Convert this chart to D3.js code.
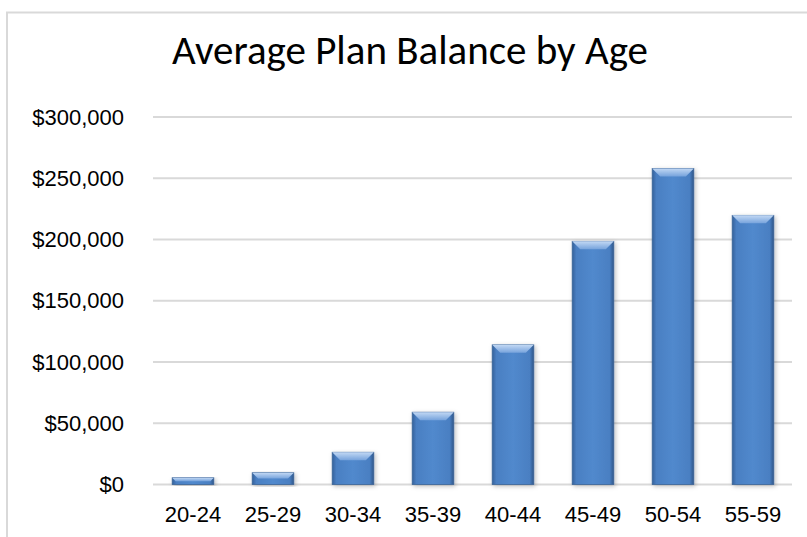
<!DOCTYPE html>
<html>
<head>
<meta charset="utf-8">
<script src="https://cdn.jsdelivr.net/npm/d3@7"></script>
<style>
  body { margin: 0; background: #fff; }
  svg { display: block; }
</style>
</head>
<body>
<div class="chart"></div>
<script>
const ageGroups = ['20-24', '25-29', '30-34', '35-39', '40-44', '45-49', '50-54', '55-59'];
const balances = [5500, 9600, 26300, 59000, 114000, 198500, 258000, 219700];
const yTicks = [0, 50000, 100000, 150000, 200000, 250000, 300000];
const chartTitle = 'Average Plan Balance by Age';

const w = 807;
const h = 537;

var svg = d3.select('.chart').append('svg')
    .attr('width', w)
    .attr('height', h);

var defs = svg.append('defs');

// side-to-side shading of the bars
var grad = defs.append('linearGradient')
    .attr('id', 'barGrad')
    .attr('x1', '0%').attr('x2', '100%')
    .attr('y1', '0%').attr('y2', '0%');
grad.append('stop').attr('offset', '0%').attr('stop-color', '#34619b');
grad.append('stop').attr('offset', '10%').attr('stop-color', '#4a7fc2');
grad.append('stop').attr('offset', '50%').attr('stop-color', '#5189cd');
grad.append('stop').attr('offset', '90%').attr('stop-color', '#4a7fc2');
grad.append('stop').attr('offset', '100%').attr('stop-color', '#2f5688');

var topGrad = defs.append('linearGradient')
    .attr('id', 'topGrad')
    .attr('x1', '0%').attr('x2', '0%')
    .attr('y1', '0%').attr('y2', '100%');
topGrad.append('stop').attr('offset', '0%').attr('stop-color', '#c2d8f4');
topGrad.append('stop').attr('offset', '100%').attr('stop-color', '#76a3dc');

var shadow = defs.append('filter')
    .attr('id', 'shadow')
    .attr('x', '-30%').attr('y', '-10%')
    .attr('width', '160%').attr('height', '130%');
shadow.append('feDropShadow')
    .attr('dx', 1.5).attr('dy', 1.5)
    .attr('stdDeviation', 2)
    .attr('flood-color', '#000')
    .attr('flood-opacity', 0.25);

// chart area outline (runs off the right and bottom)
svg.append('path')
    .attr('d', 'M7,537 V12.5 H807')
    .attr('fill', 'none')
    .attr('stroke', '#d9d9d9')
    .attr('stroke-width', 2);

var x = d3.scaleBand()
    .domain(ageGroups)
    .range([153, 793])
    .paddingInner(0.48)
    .paddingOuter(0.24);

var y = d3.scaleLinear()
    .domain([0, 300000])
    .range([484.5, 117]);

// gridlines
svg.append('g')
    .selectAll('line')
    .data(yTicks)
    .enter()
    .append('line')
    .attr('x1', 153)
    .attr('x2', 792)
    .attr('y1', d => y(d))
    .attr('y2', d => y(d))
    .attr('stroke', '#d9d9d9')
    .attr('stroke-width', 2);

// y labels
var fmt = d3.format('$,');
svg.append('g')
    .selectAll('text')
    .data(yTicks)
    .enter()
    .append('text')
    .attr('x', 124)
    .attr('y', d => y(d))
    .attr('dy', '0.35em')
    .attr('text-anchor', 'end')
    .style('font-family', '"Liberation Sans", Arial, sans-serif')
    .style('font-size', '22px')
    .attr('fill', '#000')
    .text(d => fmt(d));

// x labels
svg.append('g')
    .selectAll('text')
    .data(ageGroups)
    .enter()
    .append('text')
    .attr('x', d => x(d) + x.bandwidth() / 2)
    .attr('y', 522)
    .attr('text-anchor', 'middle')
    .style('font-family', '"Liberation Sans", Arial, sans-serif')
    .style('font-size', '22px')
    .attr('fill', '#000')
    .text(d => d);

// bars
var bars = svg.append('g')
    .selectAll('g')
    .data(ageGroups.map((a, i) => ({age: a, value: balances[i]})))
    .enter()
    .append('g')
    .attr('filter', 'url(#shadow)');

bars.append('rect')
    .attr('x', d => x(d.age))
    .attr('y', d => y(d.value))
    .attr('width', x.bandwidth())
    .attr('height', d => y(0) - y(d.value))
    .attr('fill', 'url(#barGrad)')
    .attr('stroke', '#3b6497')
    .attr('stroke-width', 0.8);

// bevelled top face
bars.append('path')
    .attr('d', function(d) {
        var x0 = x(d.age), x1 = x0 + x.bandwidth();
        var y0 = y(d.value);
        var b = Math.min(8, (y(0) - y0) / 2);
        return 'M' + x0 + ',' + y0 + 'H' + x1 + 'L' + (x1 - b) + ',' + (y0 + b) +
            'H' + (x0 + b) + 'Z';
    })
    .attr('fill', 'url(#topGrad)');

// title
svg.append('text')
    .attr('x', 410)
    .attr('y', 64)
    .attr('text-anchor', 'middle')
    .style('font-family', 'Carlito, Calibri, "Liberation Sans Narrow", "Open Sans", sans-serif')
    .style('font-size', '41px')
    .attr('fill', '#000')
    .text(chartTitle);
</script>
</body>
</html>
